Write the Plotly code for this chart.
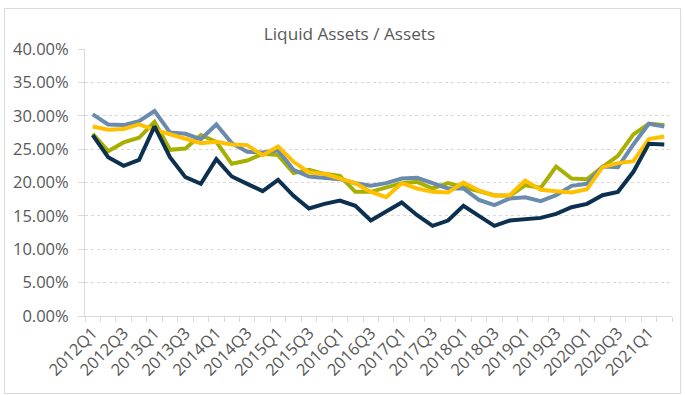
import plotly.graph_objects as go

# Quarterly periods 2012Q1 .. 2021Q2
quarters = [f"{y}Q{q}" for y in range(2012, 2022) for q in range(1, 5)][:38]

# Liquid assets as a share of total assets (%)
series_navy = [27.1, 23.8, 22.5, 23.4, 28.4, 23.8, 20.8, 19.8, 23.5, 20.9,
               19.8, 18.7, 20.4, 18.0, 16.1, 16.8, 17.3, 16.5, 14.3,
               15.6, 17.0, 15.1, 13.5, 14.3, 16.5, 15.0, 13.5, 14.3,
               14.5, 14.7, 15.3, 16.3, 16.8, 18.1, 18.6, 21.6, 25.8, 25.7]
series_slate = [30.2, 28.7, 28.6, 29.2, 30.7, 27.5, 27.3, 26.5, 28.7, 25.9,
                24.6, 24.5, 24.8, 21.9, 20.9, 20.7, 20.5, 19.9, 19.5,
                19.9, 20.6, 20.7, 19.9, 19.1, 19.1, 17.4, 16.6, 17.6,
                17.8, 17.2, 18.1, 19.5, 19.8, 22.4, 22.3, 25.7, 28.8, 28.4]
series_olive = [27.3, 24.7, 26.0, 26.7, 29.1, 24.9, 25.1, 27.1, 26.1, 22.8,
                23.3, 24.3, 24.1, 21.4, 21.9, 21.3, 21.0, 18.6, 18.6,
                19.3, 19.9, 20.1, 19.1, 19.9, 19.3, 18.8, 18.1, 18.0,
                19.6, 19.2, 22.4, 20.6, 20.5, 22.3, 24.0, 27.2, 28.8, 28.6]
series_gold = [28.4, 27.9, 28.0, 28.7, 27.9, 27.2, 26.5, 25.9, 26.1, 25.7,
               25.6, 24.1, 25.4, 23.1, 21.5, 21.3, 20.6, 19.9, 18.6,
               17.8, 19.9, 19.1, 18.6, 18.5, 20.0, 18.8, 18.0, 18.1,
               20.3, 18.9, 18.7, 18.5, 19.0, 22.3, 22.9, 23.2, 26.5, 26.9]

tick_labels = quarters[::2]

FONT = "Open Sans"
GRID = "#D9D9D9"
TEXT = "#595959"

x_idx = list(range(len(quarters)))

fig = go.Figure()
# drawing order: olive, slate, gold, navy (navy on top)
for name, vals, color in [
    ("Olive", series_olive, "#A7B000"),
    ("Slate", series_slate, "#6A8BAE"),
    ("Gold", series_gold, "#FFC000"),
    ("Navy", series_navy, "#0C3050"),
]:
    fig.add_trace(go.Scatter(
        x=x_idx, y=[v / 100 for v in vals], name=name, mode="lines",
        line=dict(color=color, width=4), customdata=quarters,
        hovertemplate="%{customdata}: %{y:.2%}<extra>" + name + "</extra>",
    ))

# plot area in pixels: x 85..672, y 49..316
L, R, T, B = 85, 13, 49, 79
W, H = 685, 395
pw, ph = W - L - R, H - T - B


def px_x(p):
    return (p - L) / pw


def px_y(p):
    return (H - B - p) / ph


fig.update_layout(
    width=W, height=H,
    margin=dict(l=L, r=R, t=T, b=B),
    paper_bgcolor="white", plot_bgcolor="white",
    showlegend=False,
    font=dict(family=FONT, color=TEXT, size=16),
    title=dict(text="Liquid Assets / Assets", x=349.5 / W, xref="container",
               xanchor="center", y=1 - 34 / H, yref="container", yanchor="middle",
               font=dict(family=FONT, size=17.2, color=TEXT)),
    xaxis=dict(
        range=[-0.5, len(quarters) - 0.5],
        tickmode="array", tickvals=x_idx[::2], ticktext=tick_labels,
        tickangle=-45, ticks="", showgrid=False, zeroline=False,
        showline=True, linecolor=GRID, linewidth=1,
        tickfont=dict(family=FONT, size=16.5, color=TEXT),
        minor=dict(tickmode="linear", tick0=-0.5, dtick=1, ticks="outside",
                   ticklen=5, tickcolor=GRID, showgrid=False),
    ),
    yaxis=dict(
        range=[0, 0.40], dtick=0.05, tickformat=".2%",
        showgrid=True, gridcolor=GRID, griddash="dot", gridwidth=1,
        zeroline=False, showline=True, linecolor=GRID, linewidth=1,
        ticks="outside", ticklen=6, tickcolor=GRID, ticklabelstandoff=6,
        tickfont=dict(family=FONT, size=16.5, color=TEXT),
    ),
)

# outer chart frame
fig.add_shape(type="rect", xref="paper", yref="paper",
              x0=px_x(4.5), x1=px_x(680.5), y0=px_y(393.5), y1=px_y(8.5),
              line=dict(color=GRID, width=1), layer="below")

fig.write_html("out.html")
